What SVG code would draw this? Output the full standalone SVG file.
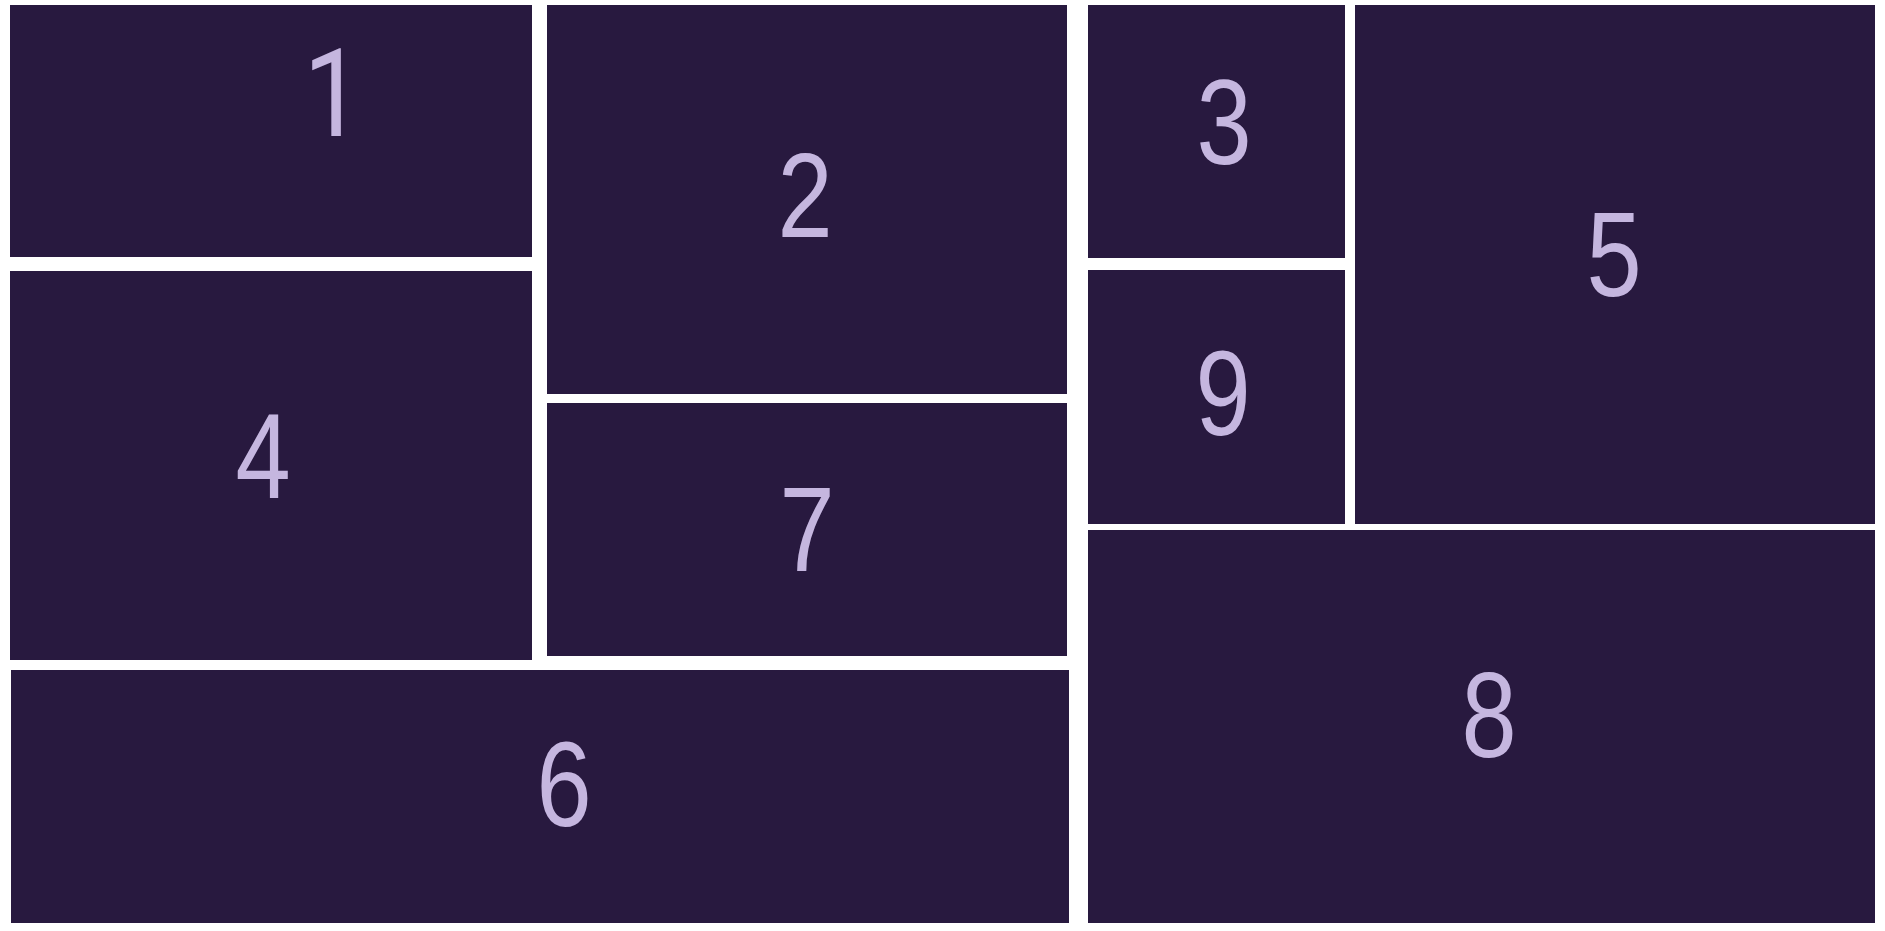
<svg xmlns="http://www.w3.org/2000/svg" width="1885" height="931" viewBox="0 0 1885 931">
<style>
.box{fill:#28193f}
.lbl{font-family:"Liberation Sans",Arial,sans-serif;font-size:121px;fill:#c5b6df;text-anchor:middle}
.one{font-family:Roboto,"Liberation Sans",Arial,sans-serif;font-size:122px}
</style>
<rect x="0" y="0" width="1885" height="931" fill="#ffffff"/>
<g id="node1"><rect class="box" x="10" y="5" width="522" height="252"/><text class="lbl one" transform="translate(333,136) scale(0.86,1)">1</text></g>
<g id="node2"><rect class="box" x="547" y="5" width="520" height="389"/><text class="lbl" transform="translate(805,237) scale(0.82,1)">2</text></g>
<g id="node3"><rect class="box" x="1088" y="5" width="257" height="253"/><text class="lbl" transform="translate(1224,164) scale(0.82,1)">3</text></g>
<g id="node5"><rect class="box" x="1355" y="5" width="520" height="519"/><text class="lbl" transform="translate(1614,296) scale(0.82,1)">5</text></g>
<g id="node4"><rect class="box" x="10" y="271" width="522" height="389"/><text class="lbl" transform="translate(263,498) scale(0.82,1)">4</text></g>
<g id="node7"><rect class="box" x="547" y="403" width="520" height="253"/><text class="lbl" transform="translate(807,571) scale(0.82,1)">7</text></g>
<g id="node9"><rect class="box" x="1088" y="270" width="257" height="254"/><text class="lbl" transform="translate(1223,435) scale(0.82,1)">9</text></g>
<g id="node6"><rect class="box" x="11" y="670" width="1058" height="253"/><text class="lbl" transform="translate(564,826) scale(0.82,1)">6</text></g>
<g id="node8"><rect class="box" x="1088" y="530" width="787" height="393"/><text class="lbl" transform="translate(1489,757) scale(0.82,1)">8</text></g>
<g id="connectors"></g>
</svg>
